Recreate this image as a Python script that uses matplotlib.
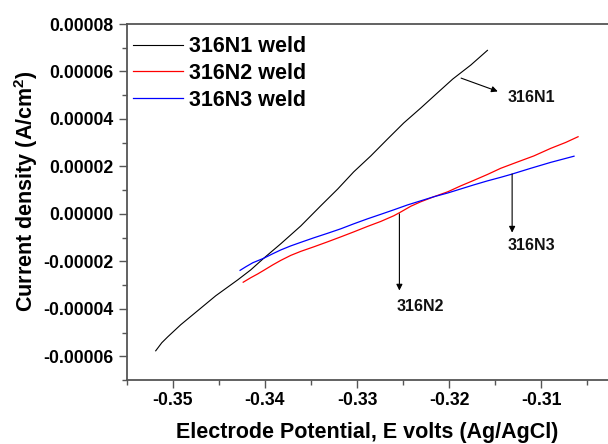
import matplotlib
matplotlib.use("Agg")
import matplotlib.pyplot as plt
from matplotlib.ticker import FixedLocator

plt.rcParams['font.family'] = ['Liberation Sans', 'DejaVu Sans']
plt.rcParams['font.weight'] = 'bold'
plt.rcParams['mathtext.fontset'] = 'custom'
plt.rcParams['mathtext.rm'] = 'Liberation Sans:bold'
plt.rcParams['mathtext.bf'] = 'Liberation Sans:bold'
plt.rcParams['mathtext.default'] = 'bf'

# ---- data (E in V vs Ag/AgCl, current density in A/cm^2) ----
n1_E = [-0.35185, -0.35119, -0.35054, -0.34913, -0.34729, -0.34533, -0.34294,
        -0.34153, -0.34012, -0.33827, -0.33610, -0.33393, -0.33208, -0.33035,
        -0.32850, -0.32666, -0.32492, -0.32307, -0.32134, -0.31960, -0.31764,
        -0.31583]
n1_i = [-5.77e-5, -5.43e-5, -5.18e-5, -4.67e-5, -4.08e-5, -3.45e-5, -2.78e-5,
        -2.36e-5, -1.87e-5, -1.26e-5, -0.51e-5, 0.34e-5, 1.05e-5, 1.77e-5,
        2.44e-5, 3.16e-5, 3.83e-5, 4.46e-5, 5.07e-5, 5.68e-5, 6.27e-5, 6.89e-5]

n2_E = [-0.34235, -0.34153, -0.34077, -0.34012, -0.33914, -0.33827, -0.33719,
        -0.33610, -0.33469, -0.33320, -0.33176, -0.33035, -0.32886, -0.32742,
        -0.32600, -0.32524, -0.32416, -0.32307, -0.32166, -0.32014, -0.31873,
        -0.31732, -0.31583, -0.31439, -0.31254, -0.31080, -0.30896, -0.30733,
        -0.30599]
n2_i = [-2.88e-5, -2.69e-5, -2.53e-5, -2.38e-5, -2.15e-5, -1.96e-5, -1.75e-5,
        -1.58e-5, -1.39e-5, -1.18e-5, -0.97e-5, -0.76e-5, -0.53e-5, -0.32e-5,
        -0.08e-5, 0.08e-5, 0.32e-5, 0.51e-5, 0.72e-5, 0.93e-5, 1.18e-5,
        1.41e-5, 1.66e-5, 1.92e-5, 2.19e-5, 2.44e-5, 2.76e-5, 3.01e-5, 3.25e-5]

n3_E = [-0.34269, -0.34207, -0.34131, -0.34012, -0.33914, -0.33827, -0.33719,
        -0.33610, -0.33469, -0.33320, -0.33176, -0.33035, -0.32886, -0.32742,
        -0.32600, -0.32448, -0.32307, -0.32166, -0.32014, -0.31873, -0.31732,
        -0.31583, -0.31439, -0.31330, -0.31113, -0.30896, -0.30643]
n3_i = [-2.38e-5, -2.23e-5, -2.06e-5, -1.87e-5, -1.68e-5, -1.52e-5, -1.35e-5,
        -1.20e-5, -1.01e-5, -0.82e-5, -0.63e-5, -0.42e-5, -0.21e-5, -0.02e-5,
        0.17e-5, 0.38e-5, 0.55e-5, 0.72e-5, 0.88e-5, 1.05e-5, 1.22e-5,
        1.39e-5, 1.54e-5, 1.66e-5, 1.92e-5, 2.17e-5, 2.43e-5]

series_labels = ['316N1 weld', '316N2 weld', '316N3 weld']

x_ticks = [-0.35, -0.34, -0.33, -0.32, -0.31]
x_ticklabels = ['-0.35', '-0.34', '-0.33', '-0.32', '-0.31']
x_minor = [-0.355, -0.345, -0.335, -0.325, -0.315, -0.305]
y_ticks = [-0.00006, -0.00004, -0.00002, 0.0, 0.00002, 0.00004, 0.00006, 0.00008]
y_ticklabels = ['-0.00006', '-0.00004', '-0.00002', '0.00000', '0.00002',
                '0.00004', '0.00006', '0.00008']
y_minor = [-0.00007, -0.00005, -0.00003, -0.00001, 0.00001, 0.00003, 0.00005, 0.00007]

# annotation arrows: (label, arrow start, arrow end, text position)
ann_labels = ['316N1', '316N2', '316N3']
ann_start = [(-0.31869, 5.72e-5), (-0.32539, 0.0), (-0.31315, 1.68e-5)]
ann_end = [(-0.31471, 5.16e-5), (-0.32539, -3.23e-5), (-0.31315, -0.79e-5)]
ann_text = [(-0.31362, 4.89e-5), (-0.32575, -3.89e-5), (-0.31359, -1.35e-5)]

# ---- figure ----
W, H = 608, 444
fig = plt.figure(figsize=(W / 100, H / 100), dpi=100)
ax = fig.add_axes([126.7 / W, 64 / H, (W - 126.7) / W, 356 / H])

ax.plot(n1_E, n1_i, color='black', lw=0.8, label=series_labels[0])
ax.plot(n2_E, n2_i, color='#ff0000', lw=0.9, label=series_labels[1])
ax.plot(n3_E, n3_i, color='#0000ff', lw=0.9, label=series_labels[2])

ax.set_xlim(-0.355, -0.30274)
ax.set_ylim(-0.00007, 0.00008)

ax.xaxis.set_major_locator(FixedLocator(x_ticks))
ax.set_xticklabels(x_ticklabels)
ax.xaxis.set_minor_locator(FixedLocator(x_minor))
ax.yaxis.set_major_locator(FixedLocator(y_ticks))
ax.set_yticklabels(y_ticklabels)
ax.yaxis.set_minor_locator(FixedLocator(y_minor))

spine_col = '#555555'
for s in ['left', 'bottom', 'top']:
    ax.spines[s].set_color(spine_col)
    ax.spines[s].set_linewidth(1.3)
ax.spines['right'].set_visible(False)

ax.tick_params(which='major', direction='out', length=5.8, width=1.0,
               color=spine_col, labelsize=12.7)
ax.tick_params(which='minor', direction='out', length=3.8, width=1.0,
               color=spine_col)
ax.tick_params(axis='y', which='major', pad=3.8)
ax.tick_params(axis='x', which='major', pad=3.0)
ax.tick_params(top=False, right=False, which='both')
for lab in ax.get_xticklabels() + ax.get_yticklabels():
    lab.set_fontweight('bold')

for lab, s, e, t in zip(ann_labels, ann_start, ann_end, ann_text):
    ax.annotate('', xy=e, xytext=s,
                arrowprops=dict(arrowstyle='-|>', color='black', lw=0.8,
                                mutation_scale=9, shrinkA=0, shrinkB=0))
    ax.text(t[0], t[1], lab, fontsize=11.5, fontweight='bold',
            ha='left', va='center', color='#111111')

ax.legend(loc='upper left', bbox_to_anchor=(0.0137, 0.966), frameon=False,
          borderpad=0, borderaxespad=0, handlelength=2.3, handletextpad=0.3,
          labelspacing=0.27,
          prop=dict(family='Liberation Sans', weight='bold', size=15.5))

fig.text(366.7 / W, 1 - 432 / H, 'Electrode Potential, E volts (Ag/AgCl)',
         ha='center', va='center', fontsize=15.5, fontweight='bold')
fig.text(26 / W, 1 - 191 / H, 'Current density (A/cm$^2$)', rotation=90,
         ha='center', va='center', fontsize=15.5, fontweight='bold')

fig.savefig('out.png', dpi=100)
